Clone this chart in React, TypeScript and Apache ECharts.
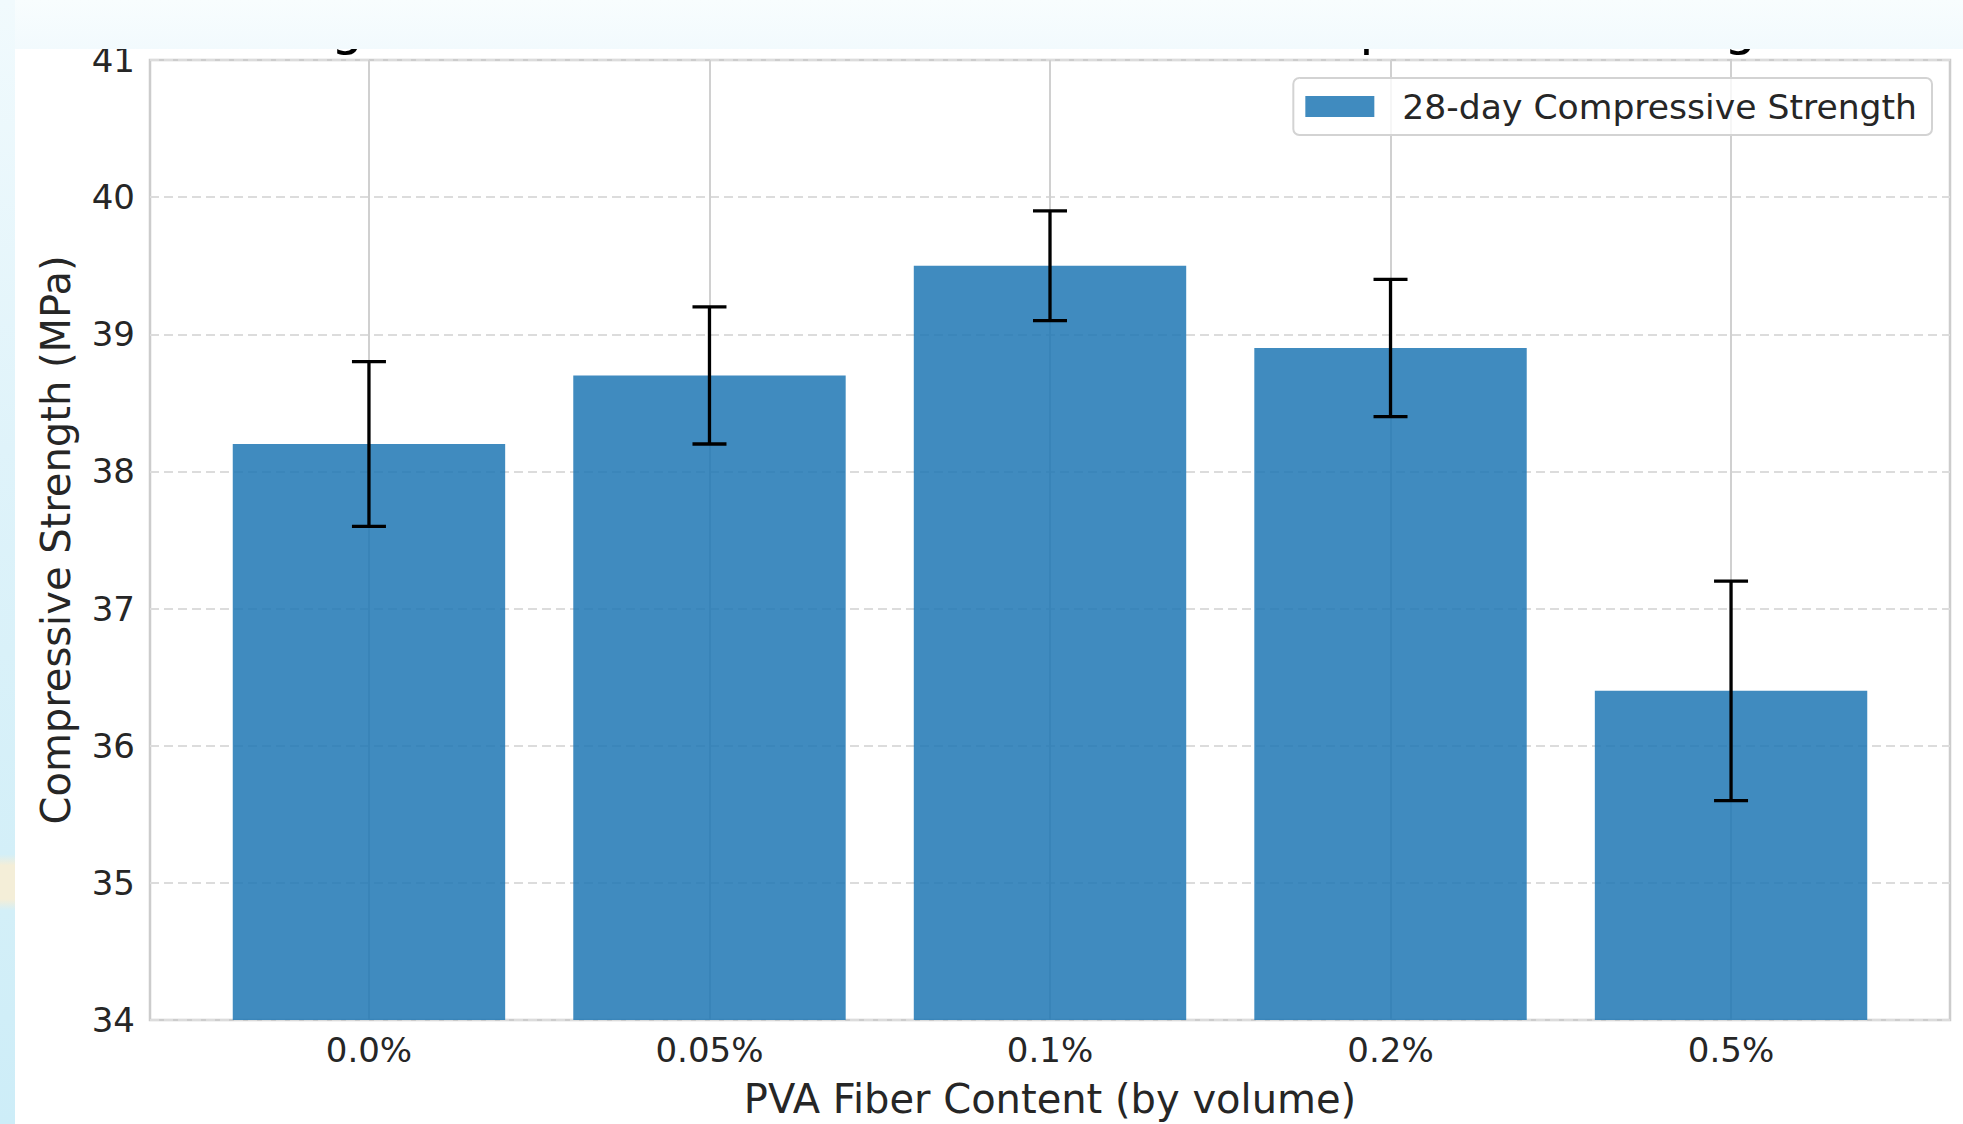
import React, { useEffect, useRef } from "react";
import * as echarts from "echarts";

// ---------- data ----------
const categories = ["0.0%", "0.05%", "0.1%", "0.2%", "0.5%"];
const strengthMean = [38.2, 38.7, 39.5, 38.9, 36.4];
const strengthErr = [0.6, 0.5, 0.4, 0.5, 0.8];
const yTicks = [34, 35, 36, 37, 38, 39, 40, 41];
const seriesName = "28-day Compressive Strength";
const xTitle = "PVA Fiber Content (by volume)";
const yTitle = "Compressive Strength (MPa)";
const chartTitle = "Fig. 1: Effect of PVA Fiber Content on Compressive Strength";

// ---------- style ----------
const FONT = "DejaVu Sans";
const TEXT = "#262626";
const BAR = "rgba(31,119,180,0.85)";
const BAR_WIDTH_UNITS = 0.8;

const catIdx = categories.map((_, i) => i);
const barData = categories.map((_, i) => [i, strengthMean[i]]);
const errData = categories.map((_, i) => [i, strengthMean[i] - strengthErr[i], strengthMean[i] + strengthErr[i]]);

function buildOption(): any {
  return {
    animation: false,
    backgroundColor: "#ffffff",
    textStyle: { fontFamily: FONT },
    grid: {
      left: 150,
      top: 60,
      width: 1800,
      height: 970,
      show: true,
      borderColor: "#cccccc",
      borderWidth: 2.5,
      backgroundColor: "transparent",
    },
    legend: {
      data: [{ name: seriesName, icon: "rect", itemStyle: { color: BAR } }],
      right: 31,
      top: 78,
      padding: [11, 15, 11, 12],
      itemWidth: 69,
      itemHeight: 21,
      borderColor: "#d3d3d3",
      borderWidth: 2,
      borderRadius: 6,
      backgroundColor: "rgba(255,255,255,0.8)",
      textStyle: { fontSize: 34.6, color: TEXT, fontFamily: FONT, padding: [0, 0, 0, 23] },
      selectedMode: false,
    },
    xAxis: {
      type: "value",
      min: -0.643,
      max: 4.643,
      axisLine: { show: false },
      axisTick: { show: false, customValues: catIdx },
      axisLabel: {
        customValues: catIdx,
        formatter: (v: number) => categories[Math.round(v)] ?? "",
        fontSize: 34,
        color: TEXT,
        fontFamily: FONT,
        margin: 13,
      },
      splitLine: { show: true, lineStyle: { color: "#d0d0d0", width: 2 } },
      name: xTitle,
      nameLocation: "middle",
      nameGap: 59,
      nameTextStyle: { fontSize: 40, color: TEXT, fontFamily: FONT },
    },
    yAxis: {
      type: "value",
      min: yTicks[0],
      max: yTicks[yTicks.length - 1],
      interval: yTicks[1] - yTicks[0],
      axisLine: { show: false },
      axisTick: { show: false },
      axisLabel: { fontSize: 34, color: TEXT, fontFamily: FONT, margin: 15 },
      splitLine: { show: true, lineStyle: { color: "#dcdcdc", width: 2, type: [9, 5] } },
      name: yTitle,
      nameLocation: "middle",
      nameRotate: 90,
      nameGap: 74,
      nameTextStyle: { fontSize: 40, color: TEXT, fontFamily: FONT },
    },
    graphic: [
      {
        type: "text",
        x: 1050,
        y: 26,
        z: 1,
        silent: true,
        style: {
          text: chartTitle,
          fontSize: 51,
          fontFamily: FONT,
          fill: "#000000",
          align: "center",
          verticalAlign: "middle",
        },
      },
      {
        type: "rect",
        z: 5,
        silent: true,
        shape: { x: 0, y: 0, width: 1963, height: 49 },
        style: {
          fill: new echarts.graphic.LinearGradient(0, 0, 0, 1, [
            { offset: 0, color: "#f8fdfe" },
            { offset: 1, color: "#f2fafd" },
          ]),
        },
      },
      {
        type: "rect",
        z: 6,
        silent: true,
        shape: { x: 0, y: 0, width: 15, height: 1124 },
        style: {
          fill: new echarts.graphic.LinearGradient(0, 0, 0, 1, [
            { offset: 0, color: "#f1fafd" },
            { offset: 0.4, color: "#dff3fa" },
            { offset: 0.76, color: "#d3eff8" },
            { offset: 0.77, color: "#f4eed8" },
            { offset: 0.8, color: "#f4eed8" },
            { offset: 0.81, color: "#d3eff8" },
            { offset: 1, color: "#cdedf8" },
          ]),
        },
      },
    ],
    series: [
      {
        name: seriesName,
        type: "custom",
        z: 2,
        itemStyle: { color: BAR },
        encode: { x: 0, y: 1 },
        data: barData,
        renderItem: (params: any, api: any) => {
          const x = api.value(0);
          const top = api.coord([x, api.value(1)]);
          const base = api.coord([x, yTicks[0]]);
          const w = api.size([BAR_WIDTH_UNITS, 0])[0];
          return {
            type: "rect",
            shape: { x: top[0] - w / 2, y: top[1], width: w, height: base[1] - top[1] },
            style: { fill: BAR },
          };
        },
      },
      {
        name: "error",
        type: "custom",
        z: 3,
        encode: { x: 0, y: [1, 2] },
        data: errData,
        renderItem: (params: any, api: any) => {
          const x = api.value(0);
          const lo = api.coord([x, api.value(1)]);
          const hi = api.coord([x, api.value(2)]);
          const cap = 17;
          const st = { stroke: "#000000", lineWidth: 3.3 };
          return {
            type: "group",
            children: [
              { type: "line", shape: { x1: lo[0], y1: lo[1], x2: hi[0], y2: hi[1] }, style: st },
              { type: "line", shape: { x1: hi[0] - cap, y1: hi[1], x2: hi[0] + cap, y2: hi[1] }, style: st },
              { type: "line", shape: { x1: lo[0] - cap, y1: lo[1], x2: lo[0] + cap, y2: lo[1] }, style: st },
            ],
          };
        },
      },
    ],
  };
}

export default function App() {
  const ref = useRef<HTMLDivElement>(null);
  useEffect(() => {
    if (!ref.current) return;
    const chart = echarts.init(ref.current, undefined, { renderer: "svg" });
    chart.setOption(buildOption());
    return () => chart.dispose();
  }, []);
  return (
    <div
      ref={ref}
      style={{ position: "fixed", left: 0, top: 0, width: 1963, height: 1124, background: "#ffffff" }}
    />
  );
}
